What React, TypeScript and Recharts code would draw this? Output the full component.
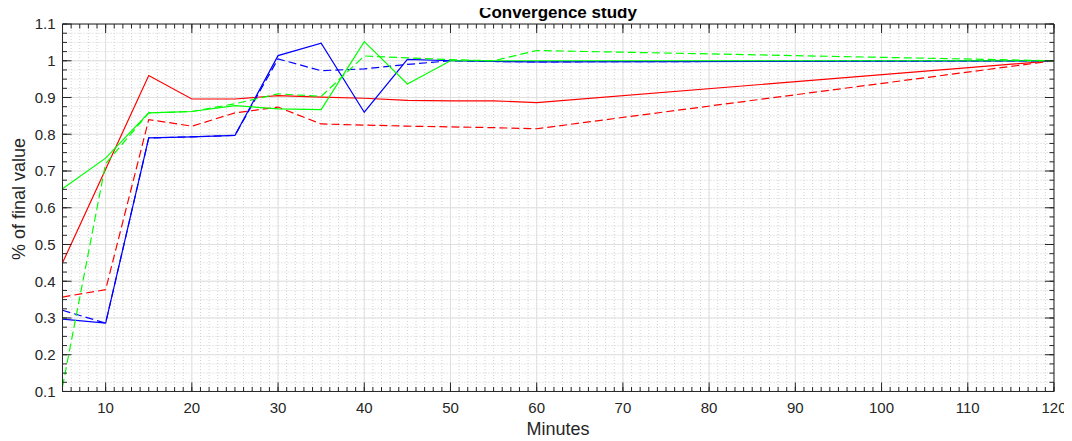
import React from 'react';
import { LineChart, Line, XAxis, YAxis, CartesianGrid } from 'recharts';

const minutes = [5, 10, 15, 20, 25, 30, 35, 40, 45, 50, 55, 60, 120];
const redSolid = [0.45, 0.705, 0.96, 0.896, 0.896, 0.905, 0.901, 0.898, 0.892, 0.891, 0.891, 0.886, 1.0];
const redDashed = [0.357, 0.377, 0.84, 0.822, 0.858, 0.874, 0.828, 0.825, 0.822, 0.82, 0.818, 0.815, 1.0];
const greenSolid = [0.652, 0.735, 0.858, 0.862, 0.878, 0.869, 0.867, 1.052, 0.937, 1.0, 1.0, 1.0, 1.0];
const greenDashed = [0.113, 0.72, 0.858, 0.862, 0.883, 0.91, 0.903, 1.013, 1.008, 1.003, 1.0, 1.028, 1.0];
const blueSolid = [0.297, 0.286, 0.79, 0.793, 0.797, 1.014, 1.048, 0.86, 1.004, 1.0, 0.998, 0.997, 1.0];
const blueDashed = [0.321, 0.286, 0.79, 0.793, 0.797, 1.005, 0.973, 0.978, 0.99, 1.0, 0.998, 0.997, 1.0];

const xMajorTicks = [10, 20, 30, 40, 50, 60, 70, 80, 90, 100, 110, 120];
const yMajorTicks = [0.1, 0.2, 0.3, 0.4, 0.5, 0.6, 0.7, 0.8, 0.9, 1, 1.1];
const xMinorTicks = Array.from({ length: 116 }, (_, i) => 5 + i);
const yMinorTicks = Array.from({ length: 41 }, (_, i) => Math.round((0.1 + i * 0.025) * 1000) / 1000);

const title = 'Convergence study';
const xLabel = 'Minutes';
const yLabel = '% of final value';

const data = minutes.map((m, i) => ({
  x: m,
  redSolid: redSolid[i],
  redDashed: redDashed[i],
  greenSolid: greenSolid[i],
  greenDashed: greenDashed[i],
  blueSolid: blueSolid[i],
  blueDashed: blueDashed[i],
}));

const FONT = '"Liberation Sans", Arial, Helvetica, sans-serif';
const AX = '#262626';
const tickFont = { fontFamily: FONT, fontSize: 15, fill: AX };
const blank = () => '';
const XD: [number, number] = [5, 120];
const YD: [number, number] = [0.1, 1.1];
const S = 0.01;
const W = 1064;
const H = 433;

export default function App() {
  return (
    <div style={{ position: 'relative', width: W, height: H, background: '#fff' }}>
      <LineChart
        width={W}
        height={H}
        data={data}
        margin={{ top: 16, right: 18, bottom: 49.5, left: 54.5 }}
      >
        <CartesianGrid xAxisId="bm" yAxisId="lm" stroke="#d0d0d0" strokeDasharray="1 2" />
        <CartesianGrid xAxisId="b" yAxisId="l" stroke="#e0e0e0" />

        <XAxis xAxisId="bm" type="number" dataKey="x" domain={XD} allowDataOverflow ticks={xMinorTicks} interval={0}
          orientation="bottom" height={S} tickSize={-4.5} tickFormatter={blank} axisLine={false} tickLine={{ stroke: AX }} />
        <XAxis xAxisId="tm" type="number" dataKey="x" domain={XD} allowDataOverflow ticks={xMinorTicks} interval={0}
          orientation="top" height={S} tickSize={-4.5} tickFormatter={blank} axisLine={false} tickLine={{ stroke: AX }} />
        <XAxis xAxisId="t" type="number" dataKey="x" domain={XD} allowDataOverflow ticks={xMajorTicks} interval={0}
          orientation="top" height={S} tickSize={-9} tickFormatter={blank} axisLine={{ stroke: AX }} tickLine={{ stroke: AX }} />
        <XAxis xAxisId="b" type="number" dataKey="x" domain={XD} allowDataOverflow ticks={xMajorTicks} interval={0}
          orientation="bottom" height={S} tickSize={-9} tickMargin={20} tick={tickFont}
          axisLine={{ stroke: AX }} tickLine={{ stroke: AX }} />

        <YAxis yAxisId="lm" type="number" domain={YD} allowDataOverflow ticks={yMinorTicks} interval={0}
          orientation="left" width={S} tickSize={-4.5} tickFormatter={blank} axisLine={false} tickLine={{ stroke: AX }} />
        <YAxis yAxisId="rm" type="number" domain={YD} allowDataOverflow ticks={yMinorTicks} interval={0}
          orientation="right" width={S} tickSize={-4.5} tickFormatter={blank} axisLine={false} tickLine={{ stroke: AX }} />
        <YAxis yAxisId="r" type="number" domain={YD} allowDataOverflow ticks={yMajorTicks} interval={0}
          orientation="right" width={S} tickSize={-9} tickFormatter={blank} axisLine={{ stroke: AX }} tickLine={{ stroke: AX }} />
        <YAxis yAxisId="l" type="number" domain={YD} allowDataOverflow ticks={yMajorTicks} interval={0}
          orientation="left" width={S} tickSize={-9} tickMargin={16} tick={tickFont}
          axisLine={{ stroke: AX }} tickLine={{ stroke: AX }} />

        <Line xAxisId="b" yAxisId="l" type="linear" dataKey="redSolid" stroke="#ff0000" strokeWidth={1.2} dot={false} activeDot={false} isAnimationActive={false} />
        <Line xAxisId="b" yAxisId="l" type="linear" dataKey="redDashed" stroke="#ff0000" strokeWidth={1.2} strokeDasharray="8 4" dot={false} activeDot={false} isAnimationActive={false} />
        <Line xAxisId="b" yAxisId="l" type="linear" dataKey="blueSolid" stroke="#0000ff" strokeWidth={1.2} dot={false} activeDot={false} isAnimationActive={false} />
        <Line xAxisId="b" yAxisId="l" type="linear" dataKey="blueDashed" stroke="#0000ff" strokeWidth={1.2} strokeDasharray="8 4" dot={false} activeDot={false} isAnimationActive={false} />
        <Line xAxisId="b" yAxisId="l" type="linear" dataKey="greenSolid" stroke="#00ff00" strokeWidth={1.2} dot={false} activeDot={false} isAnimationActive={false} />
        <Line xAxisId="b" yAxisId="l" type="linear" dataKey="greenDashed" stroke="#00ff00" strokeWidth={1.2} strokeDasharray="8 4" dot={false} activeDot={false} isAnimationActive={false} />
      </LineChart>
      <svg width={1072} height={441} style={{ position: 'absolute', left: -8, top: -8, pointerEvents: 'none', overflow: 'visible' }}>
        <text x={558} y={18} textAnchor="middle" fontFamily={FONT} fontSize={17} fontWeight="bold" fill="#000">{title}</text>
        <text x={558} y={435} textAnchor="middle" fontFamily={FONT} fontSize={18} fill={AX}>{xLabel}</text>
        <text x={25} y={199} textAnchor="middle" fontFamily={FONT} fontSize={18} fill={AX} transform="rotate(-90 25 199)">{yLabel}</text>
      </svg>
    </div>
  );
}
